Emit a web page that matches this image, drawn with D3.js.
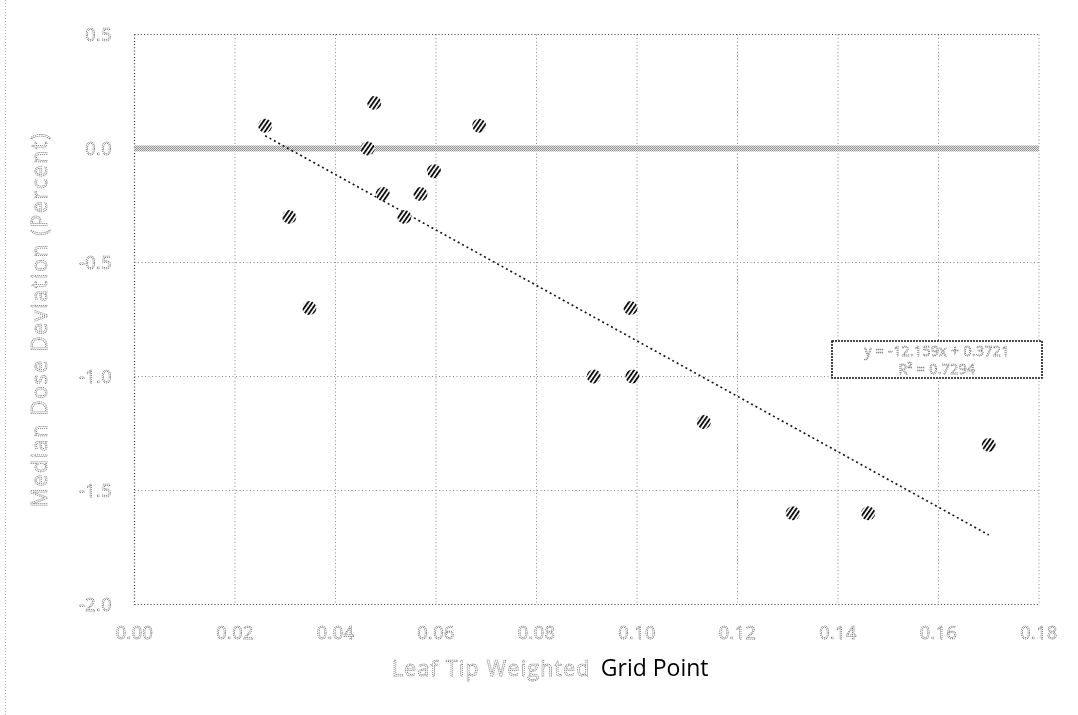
<!DOCTYPE html>
<html>
<head>
<meta charset="utf-8">
<script src="https://cdn.jsdelivr.net/npm/d3@7"></script>
<style>
  html, body { margin: 0; padding: 0; background: #fff; }
  svg { display: block; filter: grayscale(100%); will-change: transform; }
  .dot-text { fill: none; stroke: #666; stroke-width: 0.75; stroke-dasharray: 1.1 0.9; font-family: "Open Sans", sans-serif; }
</style>
</head>
<body>
<svg id="chart" width="1078" height="715"></svg>
<script>
// ---- data ----
const xValues = [0.026, 0.0477, 0.0686, 0.0464, 0.0596, 0.0494, 0.0569, 0.0537, 0.0308, 0.0348, 0.0987, 0.0914, 0.0991, 0.1133, 0.131, 0.146, 0.170];
const yValues = [0.1, 0.2, 0.1, 0.0, -0.1, -0.2, -0.2, -0.3, -0.3, -0.7, -0.7, -1.0, -1.0, -1.2, -1.6, -1.6, -1.3];
const xTicks = [0.00, 0.02, 0.04, 0.06, 0.08, 0.10, 0.12, 0.14, 0.16, 0.18];
const yTicks = [0.5, 0.0, -0.5, -1.0, -1.5, -2.0];
const trendSlope = -12.159;
const trendIntercept = 0.3721;
const equationLines = ["y = -12.159x + 0.3721", "R\u00B2 = 0.7294"];
const yTitle = "Median Dose Deviation (Percent)";
const xTitleA = "Leaf Tip Weighted";
const xTitleB = "Grid Point";

const svg = d3.select("#chart");
const x = d3.scaleLinear().domain([0, 0.18]).range([134.5, 1039]);
const y = d3.scaleLinear().domain([-2, 0.5]).range([604.5, 34.5]);

const defs = svg.append("defs");
const hatch = defs.append("pattern").attr("id", "hatch").attr("patternUnits", "userSpaceOnUse")
  .attr("width", 3.6).attr("height", 3.6).attr("patternTransform", "rotate(35)");
hatch.append("rect").attr("width", 3.6).attr("height", 3.6).attr("fill", "#fff");
hatch.append("rect").attr("width", 1.9).attr("height", 3.6).attr("fill", "#111");
const checker = defs.append("pattern").attr("id", "checker").attr("patternUnits", "userSpaceOnUse")
  .attr("width", 2).attr("height", 2);
checker.append("rect").attr("width", 2).attr("height", 2).attr("fill", "#ececec");
checker.append("rect").attr("width", 1).attr("height", 1).attr("fill", "#8a8a8a");
checker.append("rect").attr("x", 1).attr("y", 1).attr("width", 1).attr("height", 1).attr("fill", "#8a8a8a");

// outer frame left dotted line
svg.append("line").attr("x1", 5.5).attr("x2", 5.5).attr("y1", 0).attr("y2", 715)
  .attr("stroke", "#aaa").attr("stroke-width", 1).attr("stroke-dasharray", "1 2");

const [x0, x1] = x.range();
const [yb, yt] = y.range();

// vertical gridlines
svg.append("g").selectAll("line").data(xTicks.slice(1)).join("line")
  .attr("x1", d => x(d)).attr("x2", d => x(d)).attr("y1", yt).attr("y2", yb)
  .attr("stroke", "#8a8a8a").attr("stroke-width", 1).attr("stroke-dasharray", "1 2.5");
// horizontal gridlines
svg.append("g").selectAll("line").data(yTicks.filter(d => d !== 0 && d !== -2 && d !== 0.5)).join("line")
  .attr("x1", x0).attr("x2", x1).attr("y1", d => y(d)).attr("y2", d => y(d))
  .attr("stroke", "#8a8a8a").attr("stroke-width", 1).attr("stroke-dasharray", "1 2.5");
// top border, bottom border, left border (darker)
svg.append("line").attr("x1", x0).attr("x2", x1).attr("y1", y(0.5)).attr("y2", y(0.5))
  .attr("stroke", "#333").attr("stroke-width", 1.2).attr("stroke-dasharray", "1 2.2");
svg.append("line").attr("x1", x0).attr("x2", x1).attr("y1", y(-2)).attr("y2", y(-2))
  .attr("stroke", "#333").attr("stroke-width", 1.2).attr("stroke-dasharray", "1 2.2");
svg.append("line").attr("x1", x0).attr("x2", x0).attr("y1", yt).attr("y2", yb)
  .attr("stroke", "#333").attr("stroke-width", 1.2).attr("stroke-dasharray", "1 2.2");

// zero band
svg.append("rect").attr("x", x0).attr("width", x1 - x0).attr("y", y(0) - 3).attr("height", 6)
  .attr("fill", "url(#checker)");

// y tick labels
svg.append("g").selectAll("text").data(yTicks).join("text")
  .attr("class", "dot-text").attr("x", 112).attr("y", d => y(d)).attr("dy", "0.35em")
  .attr("text-anchor", "end").attr("font-size", 18).attr("letter-spacing", 0.5)
  .text(d => d3.format(".1f")(d).replace("\u2212", "-"));
// x tick labels
svg.append("g").selectAll("text").data(xTicks).join("text")
  .attr("class", "dot-text").attr("x", d => x(d)).attr("y", 633).attr("dy", "0.35em")
  .attr("text-anchor", "middle").attr("font-size", 18).attr("letter-spacing", 0.5)
  .text(d => d3.format(".2f")(d));

// trendline
const xMin = d3.min(xValues), xMax = d3.max(xValues);
svg.append("line")
  .attr("x1", x(xMin)).attr("y1", y(trendSlope * xMin + trendIntercept))
  .attr("x2", x(xMax)).attr("y2", y(trendSlope * xMax + trendIntercept))
  .attr("stroke", "#111").attr("stroke-width", 1.6).attr("stroke-dasharray", "2 3");

// points
svg.append("g").selectAll("circle").data(xValues.map((v, i) => [v, yValues[i]])).join("circle")
  .attr("cx", d => x(d[0])).attr("cy", d => y(d[1])).attr("r", 7)
  .attr("fill", "url(#hatch)");

// equation box
svg.append("rect").attr("x", 832).attr("y", 341).attr("width", 210).attr("height", 37)
  .attr("fill", "#fff").attr("stroke", "#111").attr("stroke-width", 1.6).attr("stroke-dasharray", "2 1");
svg.append("g").selectAll("text").data(equationLines).join("text")
  .attr("class", "dot-text").attr("x", 937).attr("y", (d, i) => 351 + i * 18).attr("dy", "0.35em")
  .attr("text-anchor", "middle").attr("font-size", 14).attr("letter-spacing", 0.4).text(d => d);

// y title
svg.append("text").attr("class", "dot-text")
  .attr("transform", `translate(40,${(yt + yb) / 2}) rotate(-90)`)
  .attr("text-anchor", "middle").attr("dy", "0.35em").attr("font-size", 21)
  .attr("letter-spacing", 1.8).text(yTitle);

// x title
const xt = svg.append("text").attr("x", 392).attr("y", 669).attr("dy", "0.35em").attr("font-size", 21)
  .attr("font-family", "'Open Sans', sans-serif");
xt.append("tspan").attr("class", "dot-text").attr("letter-spacing", 1.4).text(xTitleA);
xt.append("tspan").attr("fill", "#000").attr("font-size", 23).attr("dx", 10).text(xTitleB);
</script>
</body>
</html>
